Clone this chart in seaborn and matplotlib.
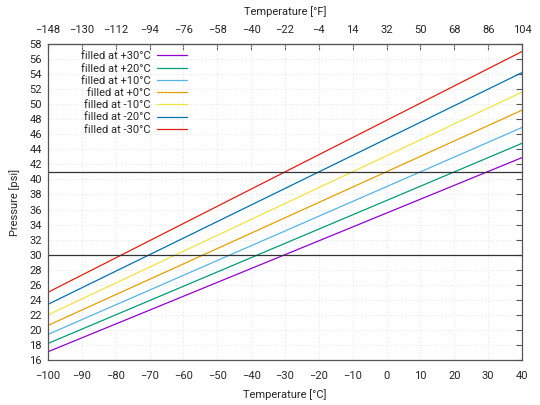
import pandas as pd
import matplotlib
matplotlib.use("Agg")
import matplotlib.pyplot as plt
import seaborn as sns

# Temperature range of the chart (deg C) and the pressure read at each end
temps_c = [-100, 40]
fill_labels = ["filled at +30°C", "filled at +20°C", "filled at +10°C", "filled at +0°C",
               "filled at -10°C", "filled at -20°C", "filled at -30°C"]
p_plus30 = [17.1, 42.9]
p_plus20 = [18.2, 44.8]
p_plus10 = [19.4, 46.9]
p_zero = [20.6, 49.2]
p_minus10 = [22.0, 51.6]
p_minus20 = [23.4, 54.2]
p_minus30 = [25.0, 57.0]
ref_pressures = [30, 41]

c_ticks = list(range(-100, 41, 10))
f_ticks = list(range(-148, 105, 18))
y_ticks = list(range(16, 59, 2))

colors = ["#9400d3", "#009e73", "#56b4e9", "#e69f00", "#f0e442", "#0072b2", "#e51e10"]

series = [p_plus30, p_plus20, p_plus10, p_zero, p_minus10, p_minus20, p_minus30]
rows = []
for lab, vals in zip(fill_labels, series):
    for t, p in zip(temps_c, vals):
        rows.append({"temp": t, "pressure": p, "fill": lab})
df = pd.DataFrame(rows)

sns.set_style("white")
plt.rcParams["font.family"] = ["Roboto", "DejaVu Sans"]
fs = 8.0

fig = plt.figure(figsize=(5.4, 4.05), dpi=100)
ax = fig.add_axes([48 / 540, 1 - 360 / 405, 474 / 540, 316 / 405])

sns.lineplot(data=df, x="temp", y="pressure", hue="fill", hue_order=fill_labels,
             palette=colors, linewidth=0.9, legend=False, ax=ax)
data_lines = list(ax.lines)

for p in ref_pressures:
    ax.axhline(p, color="#333333", linewidth=0.9)

ax.set_xlim(-100, 40)
ax.set_ylim(16, 58)
ax.set_xticks(c_ticks)
ax.set_yticks(y_ticks)
ax.grid(True, color="#e0e0e0", linestyle=(0, (1, 2)), linewidth=0.6)
ax.tick_params(direction="in", length=4, width=0.8, color="#555555",
               right=True, labelsize=fs, pad=8)
ax.tick_params(axis="y", pad=4.5)
for s in ax.spines.values():
    s.set_color("#555555")
    s.set_linewidth(0.9)

ax.set_xlabel("Temperature [°C]", fontsize=fs, labelpad=6)
ax.set_ylabel("Pressure [psi]", fontsize=fs, labelpad=7)

top = ax.secondary_xaxis("top", functions=(lambda c: c * 1.8 + 32, lambda f: (f - 32) / 1.8))
top.set_xticks(f_ticks)
top.tick_params(direction="in", length=4, width=0.8, color="#555555", labelsize=fs, pad=6.5)
top.spines["top"].set_color("#555555")
top.set_xlabel("Temperature [°F]", fontsize=fs, labelpad=7)

ax.legend(handles=data_lines, labels=fill_labels, loc="upper right",
          bbox_to_anchor=(0.312, 1.005), frameon=False, markerfirst=False,
          handlelength=2.7, handletextpad=0.6, labelspacing=0.2, fontsize=fs,
          borderpad=0.3)

fig.savefig("out.png", dpi=100)
